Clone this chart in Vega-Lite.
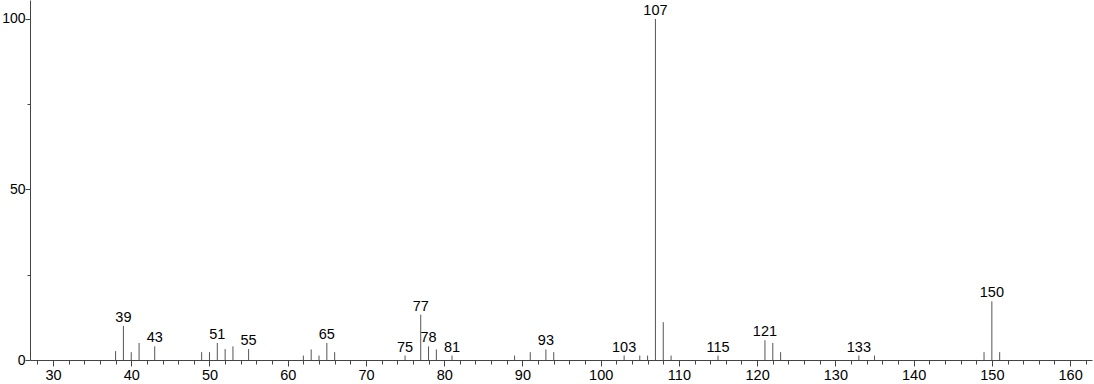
{
  "$schema": "https://vega.github.io/schema/vega-lite/v6.json",
  "width": 1062,
  "height": 360,
  "autosize": "none",
  "padding": {"left": 30, "top": 0, "right": 2, "bottom": 24},
  "background": "white",
  "config": {
    "view": {"stroke": null},
    "font": "Liberation Sans"
  },
  "data": {
    "values": [
      {"mz": 38, "i": 2.6, "lab": false},
      {"mz": 39, "i": 10.0, "lab": true},
      {"mz": 40, "i": 2.3, "lab": false},
      {"mz": 41, "i": 5.0, "lab": false},
      {"mz": 43, "i": 4.0, "lab": true},
      {"mz": 49, "i": 2.3, "lab": false},
      {"mz": 50, "i": 2.3, "lab": false},
      {"mz": 51, "i": 5.0, "lab": true},
      {"mz": 52, "i": 3.2, "lab": false},
      {"mz": 53, "i": 4.0, "lab": false},
      {"mz": 55, "i": 3.2, "lab": true},
      {"mz": 62, "i": 1.3, "lab": false},
      {"mz": 63, "i": 3.1, "lab": false},
      {"mz": 64, "i": 1.3, "lab": false},
      {"mz": 65, "i": 5.0, "lab": true},
      {"mz": 66, "i": 2.3, "lab": false},
      {"mz": 75, "i": 1.3, "lab": true},
      {"mz": 77, "i": 13.3, "lab": true},
      {"mz": 78, "i": 4.0, "lab": true},
      {"mz": 79, "i": 3.1, "lab": false},
      {"mz": 81, "i": 1.3, "lab": true},
      {"mz": 89, "i": 1.3, "lab": false},
      {"mz": 91, "i": 2.3, "lab": false},
      {"mz": 93, "i": 3.1, "lab": true},
      {"mz": 94, "i": 2.3, "lab": false},
      {"mz": 103, "i": 1.3, "lab": true},
      {"mz": 105, "i": 1.3, "lab": false},
      {"mz": 106, "i": 1.3, "lab": false},
      {"mz": 107, "i": 100, "lab": true},
      {"mz": 108, "i": 11.1, "lab": false},
      {"mz": 109, "i": 1.3, "lab": false},
      {"mz": 115, "i": 1.3, "lab": true},
      {"mz": 121, "i": 5.8, "lab": true},
      {"mz": 122, "i": 5.0, "lab": false},
      {"mz": 123, "i": 2.3, "lab": false},
      {"mz": 133, "i": 1.3, "lab": true},
      {"mz": 135, "i": 1.3, "lab": false},
      {"mz": 149, "i": 2.3, "lab": false},
      {"mz": 150, "i": 17.2, "lab": true},
      {"mz": 151, "i": 2.3, "lab": false}
    ]
  },
  "layer": [
    {
      "mark": {"type": "rule", "color": "#555555", "strokeWidth": 1},
      "encoding": {
        "x": {
          "field": "mz", "type": "quantitative",
          "scale": {"domain": [27.06, 162.8], "nice": false, "zero": false},
          "axis": {
            "title": null,
            "values": [28,30,32,34,36,38,40,42,44,46,48,50,52,54,56,58,60,62,64,66,68,70,72,74,76,78,80,82,84,86,88,90,92,94,96,98,100,102,104,106,108,110,112,114,116,118,120,122,124,126,128,130,132,134,136,138,140,142,144,146,148,150,152,154,156,158,160,162],
            "tickCount": 500,
            "format": "d",
            "labelExpr": "datum.value % 10 === 0 ? datum.label : ''",
            "labelOverlap": false,
            "labelFlush": false,
            "tickSize": {"condition": {"test": "datum.value % 10 === 0", "value": 6}, "value": 4},
            "domainColor": "#444444",
            "tickColor": "#444444",
            "labelColor": "#000000",
            "labelFontSize": 14.5,
            "labelPadding": 2,
            "grid": false
          }
        },
        "y": {
          "field": "i", "type": "quantitative",
          "scale": {"domain": [0, 105.57], "nice": false},
          "axis": {
            "title": null,
            "values": [0, 25, 50, 75, 100],
            "tickCount": 50,
            "format": "d",
            "labelExpr": "datum.value % 50 === 0 ? datum.label : ''",
            "labelOverlap": false,
            "labelFlush": false,
            "tickSize": {"condition": {"test": "datum.value % 50 === 0", "value": 5}, "value": 3},
            "domainColor": "#444444",
            "tickColor": "#444444",
            "labelColor": "#000000",
            "labelFontSize": 14,
            "labelPadding": 0,
            "grid": false
          }
        },
        "y2": {"datum": 0}
      }
    },
    {
      "transform": [{"filter": "datum.lab"}],
      "mark": {"type": "text", "baseline": "alphabetic", "align": "center", "dy": -4, "fontSize": 14.5, "color": "#000000"},
      "encoding": {
        "x": {"field": "mz", "type": "quantitative"},
        "y": {"field": "i", "type": "quantitative"},
        "text": {"field": "mz", "type": "nominal"}
      }
    }
  ]
}
